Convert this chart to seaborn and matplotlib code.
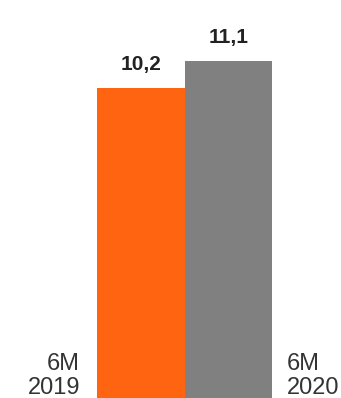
import matplotlib
matplotlib.use("Agg")
import matplotlib.pyplot as plt
import seaborn as sns
import pandas as pd

categories = ["6M\n2019", "6M\n2020"]
values = [10.2, 11.1]
colors = ["#FF6511", "#808080"]
value_labels = ["10,2", "11,1"]

sns.set_theme(style="white")
plt.rcParams["font.family"] = ["Liberation Sans", "DejaVu Sans"]

df = pd.DataFrame({"period": categories, "value": values})

fig = plt.figure(figsize=(3.41, 3.98), dpi=100)
ax = fig.add_axes([97 / 341, 0, 175 / 341, 1])
sns.barplot(data=df, x="period", y="value", hue="period", palette=colors,
            width=1.0, ax=ax, legend=False, saturation=1, linewidth=0,
            edgecolor="none")
ax.set_xlim(-0.5, 1.5)
ax.set_ylim(0, 11.1 * 398 / 337)
ax.axis("off")

for cont, lab in zip(ax.containers, value_labels):
    ax.bar_label(cont, labels=[lab], padding=10, fontsize=15,
                 fontweight="bold", color="#222222")

fig.text(80 / 341, 4 / 398, categories[0], ha="right", va="baseline",
         fontsize=17, color="#333333", linespacing=1.1, multialignment="right")
fig.text(287 / 341, 4 / 398, categories[1], ha="left", va="baseline",
         fontsize=17, color="#333333", linespacing=1.1, multialignment="left")

fig.savefig("out.png", dpi=100)
